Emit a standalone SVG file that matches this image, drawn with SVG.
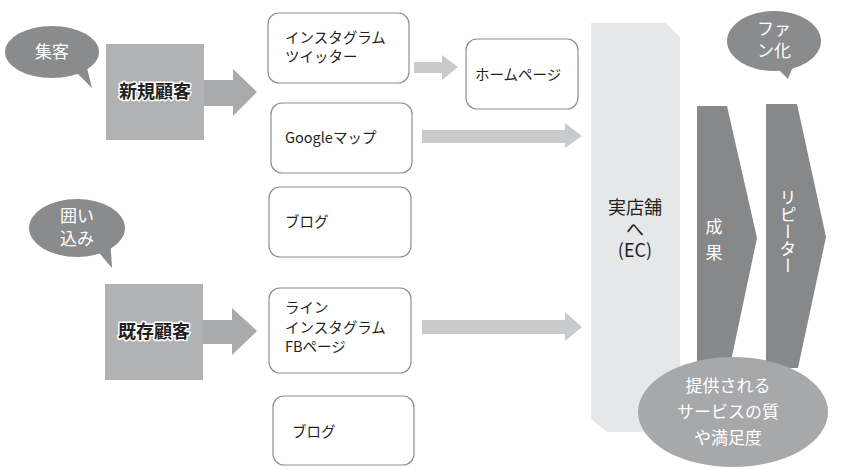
<svg xmlns="http://www.w3.org/2000/svg" width="841" height="469" viewBox="0 0 841 469">
<style>
text{font-family:"Noto Sans CJK JP","Noto Sans",sans-serif;}
.box{fill:#fff;stroke:#8f8f8f;stroke-width:1.2;}
.lbl{font-size:14.5px;fill:#231f20;}
.bubble{fill:#8a8b8d;}
.wt{fill:#fff;font-size:17px;}
.cust{fill:#b1b2b4;}
.carrow{fill:#a9aaac;}
.larrow{fill:#c9cacc;}
.ctext{font-size:18px;font-weight:bold;fill:#231f20;stroke:#fff;stroke-width:3px;paint-order:stroke;stroke-linejoin:round;}
.chev{fill:#87888a;}
</style>
<rect width="841" height="469" fill="#fff"/>

<g id="ec-panel">
<polygon points="591,23 666,23 680,37 680,432 607,432 591,419" fill="#e6e7e8"/>
<text x="635" y="214" text-anchor="middle" font-size="18" fill="#231f20">実店舗</text>
<text x="635" y="236" text-anchor="middle" font-size="18" fill="#231f20">へ</text>
<text x="635" y="257" text-anchor="middle" font-size="18" fill="#231f20">(EC)</text>
</g>

<g id="seika">
<polygon class="chev" points="697,106 727,106 757,238 727,380 697,380"/>
<text x="714" y="233" text-anchor="middle" class="wt" font-size="18">成</text>
<text x="714" y="259" text-anchor="middle" class="wt" font-size="18">果</text>
</g>

<g id="repeater">
<polygon class="chev" points="766,104 797,104 826,237 798,368 766,368"/>
<text x="788" y="189" class="wt" font-size="18" style="writing-mode:vertical-rl;">リピーター</text>
</g>

<g id="satisfaction">
<ellipse cx="733" cy="412" rx="95" ry="55" fill="#a7a8aa"/>
<text x="728" y="392" text-anchor="middle" class="wt" font-size="18.5">提供される</text>
<text x="728" y="418" text-anchor="middle" class="wt" font-size="18.5">サービスの質</text>
<text x="728" y="444" text-anchor="middle" class="wt" font-size="18.5">や満足度</text>
</g>

<g id="bubble-shuukyaku">
<ellipse class="bubble" cx="52" cy="52" rx="47" ry="26"/>
<polygon class="bubble" points="72,68 92,88 84,56"/>
<text x="52" y="58" text-anchor="middle" class="wt" font-size="18">集客</text>
</g>

<g id="bubble-kakoikomi">
<ellipse class="bubble" cx="77" cy="228" rx="48" ry="29"/>
<polygon class="bubble" points="95,248 112,268 110,236"/>
<text x="77" y="222" text-anchor="middle" class="wt" font-size="17">囲い</text>
<text x="77" y="245" text-anchor="middle" class="wt" font-size="17">込み</text>
</g>

<g id="bubble-fan">
<ellipse class="bubble" cx="774" cy="41" rx="47" ry="30"/>
<polygon class="bubble" points="775,66 788,79 794,64"/>
<text x="774" y="35" text-anchor="middle" class="wt" font-size="17">ファ</text>
<text x="774" y="57" text-anchor="middle" class="wt" font-size="17">ン化</text>
</g>

<g id="shinki">
<rect class="cust" x="106" y="44" width="98" height="96"/>
<text x="155" y="98" text-anchor="middle" class="ctext">新規顧客</text>
</g>

<g id="kison">
<rect class="cust" x="105" y="284" width="98" height="96"/>
<text x="154" y="338" text-anchor="middle" class="ctext">既存顧客</text>
</g>

<g id="insta-twitter">
<rect class="box" x="268" y="13" width="141" height="70" rx="11"/>
<text x="285" y="43" class="lbl">インスタグラム</text>
<text x="285" y="62" class="lbl">ツイッター</text>
</g>

<g id="homepage">
<rect class="box" x="466" y="39" width="112" height="70" rx="11"/>
<text x="475" y="80" class="lbl">ホームページ</text>
</g>

<g id="googlemap">
<rect class="box" x="271" y="103" width="141" height="70" rx="11"/>
<text x="285" y="143" class="lbl">Googleマップ</text>
</g>

<g id="blog1">
<rect class="box" x="269" y="187" width="142" height="70" rx="11"/>
<text x="285" y="227" class="lbl">ブログ</text>
</g>

<g id="line-insta-fb">
<rect class="box" x="269" y="288" width="142" height="85" rx="11"/>
<text x="285" y="313" class="lbl">ライン</text>
<text x="285" y="333" class="lbl">インスタグラム</text>
<text x="285" y="352" class="lbl">FBページ</text>
</g>

<g id="blog2">
<rect class="box" x="273" y="396" width="141" height="69" rx="11"/>
<text x="292" y="437" class="lbl">ブログ</text>
</g>

<g id="connectors">
<polygon class="carrow" points="204,80 233,80 233,69 257,92 233,116 233,106 204,106"/>
<polygon class="carrow" points="203,320 232,320 232,308 257,331 232,355 232,344 203,344"/>
<polygon class="larrow" points="414,62 442,62 442,55 458,67 442,80 442,73 414,73"/>
<polygon class="larrow" points="422,130 565,130 565,123 582,136 565,148 565,143 422,143"/>
<polygon class="larrow" points="422,320 565,320 565,312 582,327 565,341 565,334 422,334"/>
</g>
</svg>
